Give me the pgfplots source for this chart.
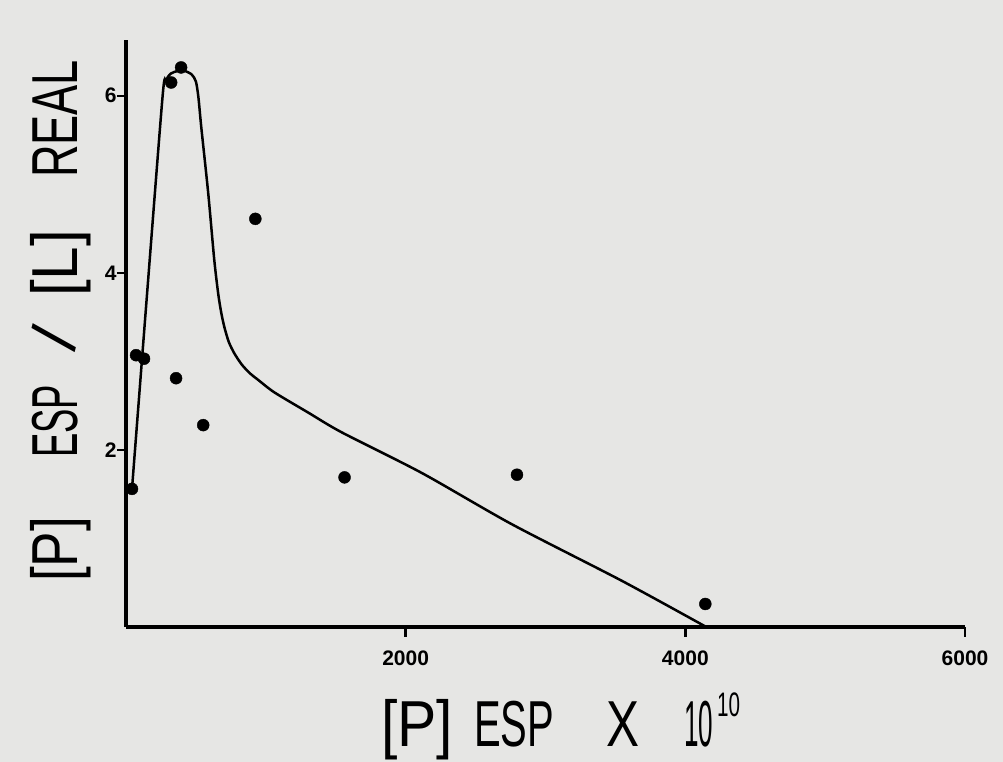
\documentclass[border=0pt]{standalone}
\usepackage{pgfplots}
\pgfplotsset{compat=1.18}
\usepackage{fontspec}
\setmainfont{Liberation Sans}
\usepackage{graphicx}
\definecolor{bg}{RGB}{230,230,228}
\newcommand\wb[2]{\resizebox{#1}{\height}{#2}}
\begin{document}
\begin{tikzpicture}
\fill[bg] (-126pt,-135pt) rectangle ++(1003pt,762pt);
\begin{axis}[
  name=ax, at={(0pt,0pt)}, anchor=south west,
  width=839pt, height=587pt, scale only axis,
  xmin=0, xmax=6000, ymin=0, ymax=6.63,
  axis lines=left,
  axis line style={-, line width=3.5pt},
  x axis line style={-}, y axis line style={-},
  clip=false,
  xtick={2000,4000,6000}, ytick={2,4,6},
  tick align=outside, major tick length=9pt,
  tick style={draw=black, line width=2.5pt},
  scaled ticks=false,
  /pgf/number format/set thousands separator={},
  /pgf/number format/assume math mode=true,
  tick label style={font=\fontsize{21}{24}\selectfont\bfseries},
  x tick label style={yshift=-11pt},
  y tick label style={xshift=3pt},
  xlabel={\wb{72pt}{[P]}\hspace{21pt}\wb{80pt}{ESP}\hspace{52pt}\wb{33pt}{X}\hspace{45pt}\wb{29pt}{10}\hspace{4pt}\raisebox{30pt}{\fontsize{34}{36}\selectfont\wb{23pt}{10}}},
  xlabel style={font=\fontsize{65}{70}\selectfont, at={(axis description cs:0.518,-0.204)}, anchor=base},
  ylabel={\wb{65pt}{[P]}\hspace{59pt}\wb{73pt}{ESP}\hspace{32pt}\makebox[30pt]{\rotatebox[origin=c]{-14}{/}}\hspace{26pt}\wb{67pt}{[L]}\hspace{52pt}\wb{118pt}{REAL}},
  ylabel style={font=\fontsize{65}{70}\selectfont, at={(axis description cs:-0.0584,0.5213)}, anchor=base},
]
\addplot[black, line width=2.5pt, smooth, tension=0.45] coordinates {
(40,1.50) (150,3.75) (262,6.00) (285,6.17) (320,6.25) (370,6.28) (420,6.28)
(470,6.24) (500,6.16) (518,5.98) (538,5.65) (588,4.90) (631,4.15) (659,3.77)
(680,3.56) (703,3.39) (735,3.22) (775,3.09) (830,2.96) (890,2.86) (946,2.79)
(1061,2.65) (1305,2.42) (1541,2.20)
(2115,1.74) (2760,1.16) (3548,0.52) (4150,0)
};
\addplot[only marks, mark=*, mark size=6pt, black] coordinates {
(43,1.56) (72,3.07) (129,3.03) (358,2.81) (552,2.28) (1563,1.69)
(2796,1.72) (4143,0.26) (925,4.61) (323,6.15) (394,6.32)
};
\draw[line width=2.5pt] (axis cs:2000,0) -- ++(0pt,-10pt);
\draw[line width=2.5pt] (axis cs:4000,0) -- ++(0pt,-10pt);
\draw[line width=2.5pt] (axis cs:6000,0) -- ++(0pt,-10pt);
\draw[line width=2.5pt] (axis cs:0,2) -- ++(-9pt,0pt);
\draw[line width=2.5pt] (axis cs:0,4) -- ++(-9pt,0pt);
\draw[line width=2.5pt] (axis cs:0,6) -- ++(-9pt,0pt);
\end{axis}
\pgfresetboundingbox
\path (-126pt,-135pt) rectangle ++(1003pt,762pt);
\end{tikzpicture}
\end{document}
